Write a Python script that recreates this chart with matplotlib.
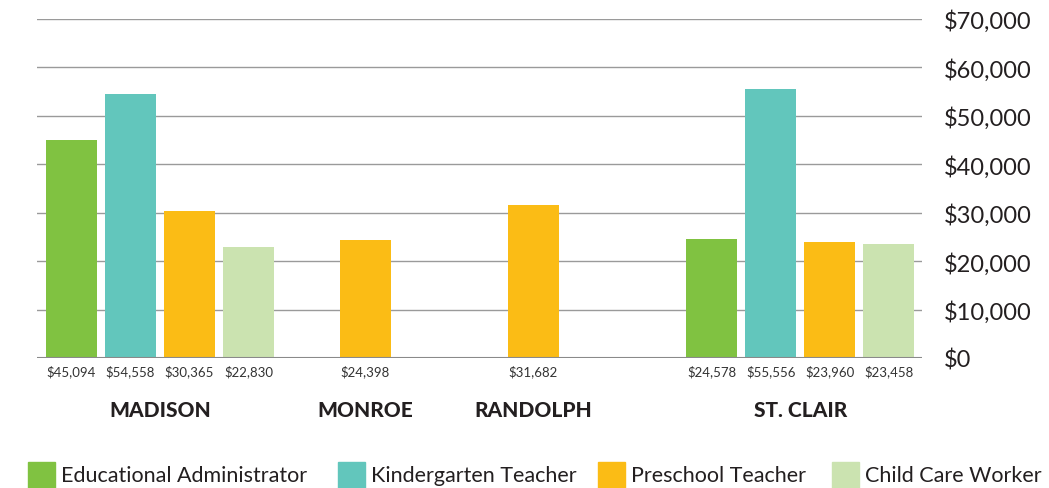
import matplotlib
matplotlib.use("Agg")
import matplotlib.pyplot as plt
from matplotlib.patches import Rectangle
from matplotlib.ticker import FuncFormatter

# ---- data ----
counties = ["MADISON", "MONROE", "RANDOLPH", "ST. CLAIR"]
series = ["Educational Administrator", "Kindergarten Teacher", "Preschool Teacher", "Child Care Worker"]
edu_admin = [45094, None, None, 24578]
kinder = [54558, None, None, 55556]
preschool = [30365, 24398, 31682, 23960]
child_care = [22830, None, None, 23458]
y_ticks = [0, 10000, 20000, 30000, 40000, 50000, 60000, 70000]

colors = ["#80C241", "#62C6BC", "#FBBC15", "#CBE3B0"]
values = [edu_admin, kinder, preschool, child_care]

# ---- layout (pixel-like x units) ----
W, H = 1049, 489
group_centers = [160, 365.5, 533.5, 800.5]
bar_w = 51
step = 59

plt.rcParams['font.family'] = ['Lato', 'DejaVu Sans']
fig = plt.figure(figsize=(W / 100, H / 100), dpi=100)
x0, x1 = 37, 922
ytop, ybot = 20, 359
ax = fig.add_axes([x0 / W, (H - ybot) / H, (x1 - x0) / W, (ybot - ytop) / H])
ax.set_xlim(x0, x1)
ax.set_ylim(0, 70000)

for gi, c in enumerate(counties):
    present = [si for si in range(len(series)) if values[si][gi] is not None]
    n = len(present)
    for k, si in enumerate(present):
        xc = group_centers[gi] + (k - (n - 1) / 2) * step
        v = values[si][gi]
        ax.bar(xc, v, width=bar_w, color=colors[si], zorder=3)
        ax.annotate(f"${v:,}", xy=(xc, 0), xytext=(0, -9.5), textcoords="offset points",
                    ha="center", va="center", fontsize=9.5, color="#333333")
    ax.annotate(c, xy=(group_centers[gi], 0), xytext=(0, -37), textcoords="offset points",
                ha="center", va="center", fontsize=15, fontweight="black", color="#231F20")

ax.set_yticks(y_ticks)
ax.yaxis.set_major_formatter(FuncFormatter(lambda v, p: f"${int(v):,}"))
ax.yaxis.tick_right()
ax.tick_params(axis="y", length=0, pad=16, labelsize=17, labelcolor="#231F20")
ax.set_xticks([])
ax.grid(axis="y", color="#9a9a9a", linewidth=1, zorder=0)
for s in ax.spines.values():
    s.set_visible(False)
ax.axhline(0, color="#8a8a8a", linewidth=1.5, zorder=4)

# ---- legend ----
leg_sq_x = [28, 338, 598, 832]
sq = 27
for i, name in enumerate(series):
    fig.patches.append(Rectangle((leg_sq_x[i] / W, (H - 490) / H), sq / W, sq / H,
                                 transform=fig.transFigure, color=colors[i]))
    fig.text((leg_sq_x[i] + sq + 6) / W, (H - 476) / H, name, ha="left", va="center",
             fontsize=15.5, color="#231F20")

fig.savefig("out.png", dpi=100)
